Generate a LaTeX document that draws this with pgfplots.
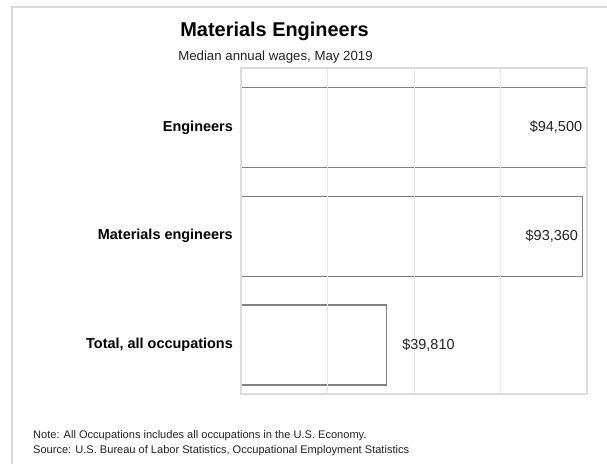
\documentclass[border=0pt]{standalone}
\usepackage{pgfplots}
\pgfplotsset{compat=1.18}
\usepackage{fontspec}
\setmainfont{Liberation Sans}
\definecolor{framec}{HTML}{D9D9D9}
\definecolor{axisc}{HTML}{DCDCDC}
\definecolor{gridc}{HTML}{E8E8E8}
\definecolor{barc}{HTML}{808080}
\definecolor{txt}{HTML}{222222}
\begin{document}
\begin{tikzpicture}
\useasboundingbox (0,0) rectangle (607bp,-464bp);
\draw[framec, line width=1.5bp] (12bp,-464bp) -- (12bp,-7bp) -- (607bp,-7bp);
\node[anchor=base, inner sep=0pt, font=\bfseries\fontsize{20}{24}\selectfont] at (274.5bp,-36bp) {Materials Engineers};
\node[anchor=base, inner sep=0pt, text=txt, font=\fontsize{13.3}{16}\selectfont] at (275.5bp,-60bp) {Median annual wages, May 2019};
\begin{axis}[
  at={(241bp,-394bp)}, anchor=south west,
  width=346bp, height=326bp, scale only axis,
  xmin=0, xmax=94500,
  ymin=-0.45, ymax=2.545,
  ytick={0,1,2},
  yticklabels={{Total, all occupations},{Materials engineers},{Engineers}},
  xtick={0,23625,47250,70875,94500}, xticklabels={}, scaled x ticks=false,
  xmajorgrids, grid style={color=gridc, line width=1bp},
  axis line style={color=axisc, line width=1.2bp},
  major tick length=0pt,
  yticklabel style={font=\bfseries\fontsize{14.5}{16}\selectfont, inner sep=0pt, xshift=-8bp},
  axis on top,
  point meta=x,
  /pgf/number format/assume math mode=true,
  nodes near coords={\$\pgfmathprintnumber[fixed, precision=0, 1000 sep={,}, assume math mode=true]{\pgfplotspointmeta}},
  nodes near coords style={font=\fontsize{14.5}{17}\selectfont, text=txt, inner sep=0pt},
]
\addplot[xbar, bar width=80bp, bar shift=0pt, draw=barc, line width=1.2bp, fill=white,
  every node near coord/.append style={anchor=east, xshift=-4.3bp}]
  coordinates {(94500,2) (93360,1)};
\addplot[xbar, bar width=80bp, bar shift=0pt, draw=barc, line width=1.2bp, fill=white,
  every node near coord/.append style={anchor=west, xshift=15bp}]
  coordinates {(39810,0)};
\end{axis}
\node[anchor=base west, inner sep=0pt, text=txt, font=\fontsize{11.1}{14}\selectfont] at (33bp,-438bp) {Note: All Occupations includes all occupations in the U.S. Economy.};
\node[anchor=base west, inner sep=0pt, text=txt, font=\fontsize{11.1}{14}\selectfont] at (33bp,-453bp) {Source: U.S. Bureau of Labor Statistics, Occupational Employment Statistics};
\end{tikzpicture}
\end{document}
